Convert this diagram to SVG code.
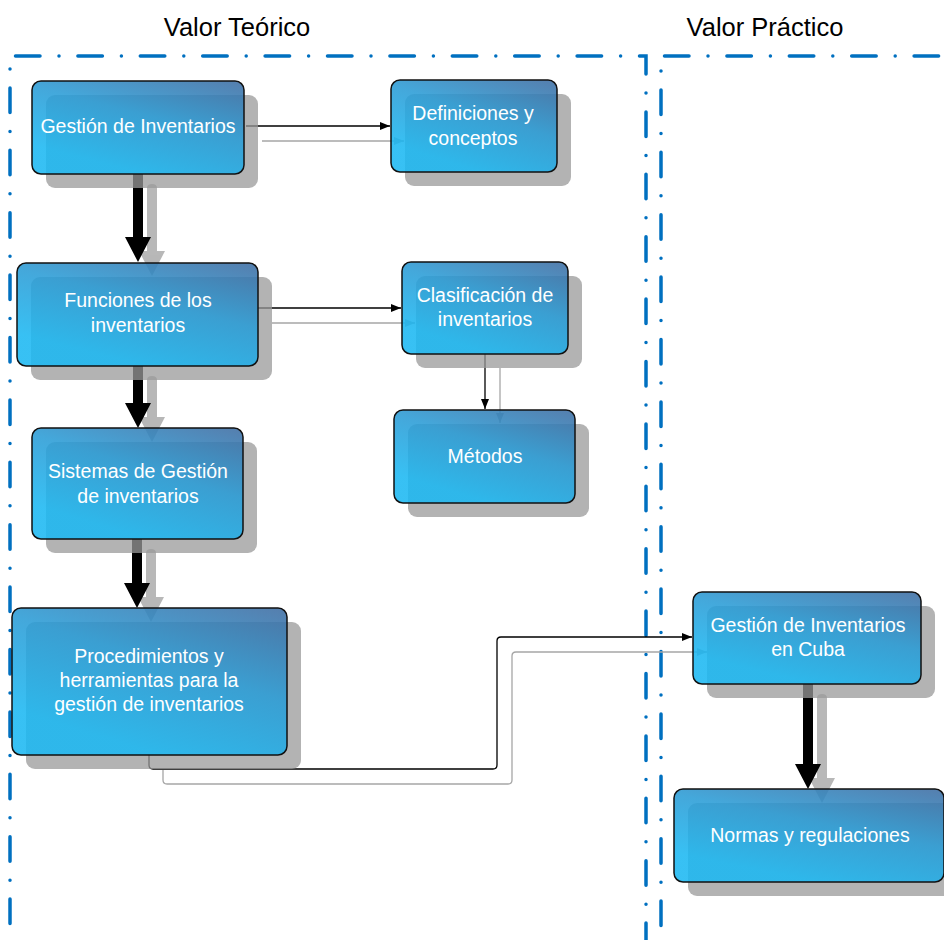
<svg xmlns="http://www.w3.org/2000/svg" width="944" height="940" viewBox="0 0 944 940">
<style>
.frame{fill:none;stroke:#0070C0;stroke-width:3.5;stroke-linecap:round;stroke-dasharray:24.5 19 0 18.9}
.shadow{fill:#9a9a9a;opacity:0.75}
.box{fill:url(#bg);fill-opacity:0.88;stroke:#111;stroke-width:1.5}
.lbl{font-family:"Liberation Sans",Arial,sans-serif;font-size:19.5px;fill:#fff;text-anchor:middle}
.hdr{font-family:"Liberation Sans",Arial,sans-serif;font-size:25.5px;fill:#000;text-anchor:middle}
.thin{fill:none;stroke:#000;stroke-width:1.3}
.thinS{fill:none;stroke:#a6a6a6;stroke-width:1.3}
.thick{fill:#000}
.thickS{fill:#9a9a9a}
</style>
<defs>
<linearGradient id="bg" x1="1" y1="0" x2="0.45" y2="0.95">
<stop offset="0" stop-color="#3e6ca2"/>
<stop offset="0.5" stop-color="#2a9cd6"/>
<stop offset="1" stop-color="#1cb8f2"/>
</linearGradient>
<marker id="ah" viewBox="0 0 10 8" refX="10" refY="4" markerWidth="10" markerHeight="8" markerUnits="userSpaceOnUse" orient="auto">
<path d="M0,0 L10,4 L0,8 Z" fill="#000"/>
</marker>
<marker id="ahS" viewBox="0 0 10 8" refX="10" refY="4" markerWidth="10" markerHeight="8" markerUnits="userSpaceOnUse" orient="auto">
<path d="M0,0 L10,4 L0,8 Z" fill="#a6a6a6"/>
</marker>
</defs>
<rect width="944" height="940" fill="#fff"/>

<g id="headers">
<text class="hdr" x="237" y="36">Valor Teórico</text>
<text class="hdr" x="765" y="36">Valor Práctico</text>
</g>

<g id="frames">
<path class="frame" d="M15.5,56 H646 V940"/>
<path class="frame" d="M10,69 V940" style="stroke-dasharray:0 18.9 24.5 19"/>
<path class="frame" d="M664.5,56 H944"/>
<path class="frame" d="M661,71 V940" style="stroke-dasharray:0 18.9 24.5 19"/>
</g>

<g id="connector-shadows">
<path class="thinS" d="M262,141 H404" marker-end="url(#ahS)"/>
<path class="thinS" d="M272,323 H415" marker-end="url(#ahS)"/>
<path class="thinS" d="M500,368 V423" marker-end="url(#ahS)"/>
<path class="thinS" d="M163,770 V780 Q163,784 167,784 H508 Q512,784 512,780 V656 Q512,652 516,652 H707" marker-end="url(#ahS)"/>
<g opacity="0.7">
<path class="thickS" d="M147,188 V251 H139 L152,276 L165,251 H157 V188 Q157,184 152,184 Q147,184 147,188 Z"/>
<path class="thickS" d="M147,380 V417 H139 L152,442 L165,417 H157 V380 Q157,376 152,376 Q147,376 147,380 Z"/>
<path class="thickS" d="M146,553 V597 H138 L151,622 L164,597 H156 V553 Q156,549 151,549 Q146,549 146,553 Z"/>
<path class="thickS" d="M817,698 V778 H809 L822,803 L835,778 H827 V698 Q827,694 822,694 Q817,694 817,698 Z"/>
</g>
</g>

<g id="connectors">
<path class="thin" d="M246,126 H390" marker-end="url(#ah)"/>
<path class="thin" d="M258,308 H401" marker-end="url(#ah)"/>
<path class="thin" d="M485,354 V409" marker-end="url(#ah)"/>
<path class="thin" d="M149,755 V765 Q149,769 153,769 H493 Q497,769 497,765 V641 Q497,637 501,637 H692" marker-end="url(#ah)"/>
<path class="thick" d="M133,174 V237 H125 L138,262 L151,237 H143 V174 Z"/>
<path class="thick" d="M133,366 V403 H125 L138,428 L151,403 H143 V366 Z"/>
<path class="thick" d="M132,539 V583 H124 L137,608 L150,583 H142 V539 Z"/>
<path class="thick" d="M803,684 V764 H795 L808,789 L821,764 H813 V684 Z"/>
</g>

<g id="n1">
<rect class="shadow" x="46" y="95" width="212" height="93" rx="9"/>
<rect class="box" x="32" y="81" width="212" height="93" rx="9"/>
<text class="lbl" x="138" y="133">Gestión de Inventarios</text>
</g>
<g id="n2">
<rect class="shadow" x="405" y="94" width="166" height="92" rx="9"/>
<rect class="box" x="391" y="80" width="166" height="92" rx="9"/>
<text class="lbl" x="473" y="120">Definiciones y</text>
<text class="lbl" x="473" y="145">conceptos</text>
</g>
<g id="n3">
<rect class="shadow" x="31" y="277" width="241" height="103" rx="9"/>
<rect class="box" x="17" y="263" width="241" height="103" rx="9"/>
<text class="lbl" x="138" y="307">Funciones de los</text>
<text class="lbl" x="138" y="332">inventarios</text>
</g>
<g id="n4">
<rect class="shadow" x="416" y="276" width="166" height="92" rx="9"/>
<rect class="box" x="402" y="262" width="166" height="92" rx="9"/>
<text class="lbl" x="485" y="302">Clasificación de</text>
<text class="lbl" x="485" y="326">inventarios</text>
</g>
<g id="n5">
<rect class="shadow" x="408" y="424" width="181" height="93" rx="9"/>
<rect class="box" x="394" y="410" width="181" height="93" rx="9"/>
<text class="lbl" x="485" y="463">Métodos</text>
</g>
<g id="n6">
<rect class="shadow" x="46" y="442" width="211" height="111" rx="9"/>
<rect class="box" x="32" y="428" width="211" height="111" rx="9"/>
<text class="lbl" x="138" y="478">Sistemas de Gestión</text>
<text class="lbl" x="138" y="503">de inventarios</text>
</g>
<g id="n7">
<rect class="shadow" x="26" y="622" width="275" height="147" rx="9"/>
<rect class="box" x="12" y="608" width="275" height="147" rx="9"/>
<text class="lbl" x="149" y="663">Procedimientos y</text>
<text class="lbl" x="149" y="687">herramientas para la</text>
<text class="lbl" x="149" y="711">gestión de inventarios</text>
</g>
<g id="n8">
<rect class="shadow" x="707" y="606" width="228" height="92" rx="9"/>
<rect class="box" x="693" y="592" width="228" height="92" rx="9"/>
<text class="lbl" x="808" y="632">Gestión de Inventarios</text>
<text class="lbl" x="808" y="656">en Cuba</text>
</g>
<g id="n9">
<rect class="shadow" x="688" y="803" width="270" height="93" rx="9"/>
<rect class="box" x="674" y="789" width="270" height="93" rx="9"/>
<text class="lbl" x="810" y="842">Normas y regulaciones</text>
</g>
</svg>
